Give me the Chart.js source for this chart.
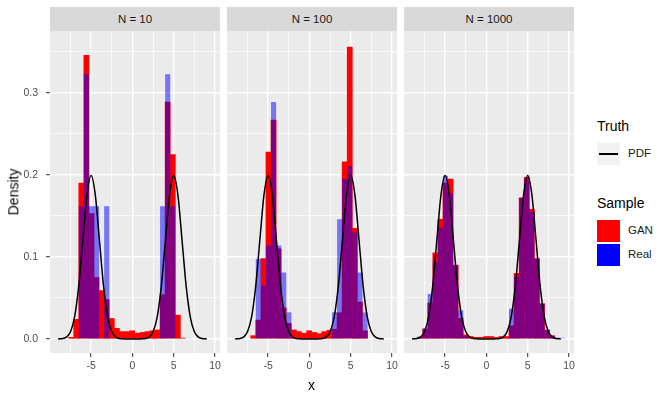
<!DOCTYPE html>
<html>
<head>
<meta charset="utf-8">
<script src="https://cdn.jsdelivr.net/npm/chart.js@4.4.0/dist/chart.umd.min.js"></script>
<style>
body{margin:0;background:#fff;font-family:"Liberation Sans",Arial,sans-serif;}
#wrap{position:relative;width:670px;height:400px;overflow:hidden;background:#fff;}
canvas{position:absolute;top:31px;}
.strip{position:absolute;top:7px;height:24px;width:170px;background:#d9d9d9;color:#1a1a1a;font-size:11.5px;line-height:24px;text-align:center;}
.txt{position:absolute;white-space:nowrap;color:#000;}
.title{font-size:14px;}
.lab{font-size:11.5px;color:#1a1a1a;}
.key{position:absolute;width:23px;height:22px;}
</style>
</head>
<body>
<div id="wrap">
  <div class="strip" style="left:50px">N = 10</div>
  <div class="strip" style="left:227px">N = 100</div>
  <div class="strip" style="left:404px">N = 1000</div>

  <canvas id="c1" width="230" height="345" style="left:0px"></canvas>
  <canvas id="c2" width="190" height="345" style="left:217px"></canvas>
  <canvas id="c3" width="190" height="345" style="left:394px"></canvas>

  <div class="txt title" style="left:-10px;top:184px;transform:rotate(-90deg);">Density</div>
  <div class="txt title" style="left:308px;top:377px;">x</div>

  <div class="txt title" style="left:597px;top:118px;">Truth</div>
  <div class="key" style="left:597px;top:143px;background:#f2f2f2;"></div>
  <div class="key" style="left:599px;top:153px;width:19px;height:1.5px;background:#000;"></div>
  <div class="txt lab" style="left:628px;top:147px;">PDF</div>

  <div class="txt title" style="left:597px;top:195px;">Sample</div>
  <div class="key" style="left:597px;top:220px;background:#ff0000;"></div>
  <div class="key" style="left:597px;top:244px;background:#0000ff;"></div>
  <div class="txt lab" style="left:628px;top:224px;">GAN</div>
  <div class="txt lab" style="left:628px;top:248px;">Real</div>
</div>
<script>
// bin centres shared by every histogram (bin width 0.615)
const binMids = [-8.648,-8.033,-7.418,-6.803,-6.188,-5.573,-4.958,-4.343,-3.728,-3.113,
  -2.498,-1.883,-1.268,-0.653,-0.038,0.577,1.192,1.807,2.422,3.037,
  3.652,4.267,4.882,5.497,6.112,6.727,7.342,7.957,8.572,9.187];

// N = 10
const gan10 = [0,0,0.002,0.024,0.190,0.346,0.153,0.075,0.059,0.048,
  0.025,0.013,0.009,0.009,0.010,0.007,0.008,0.009,0.010,0.011,
  0.054,0.289,0.225,0.029,0.001,0,0,0,0,0];
const real10 = [0,0,0,0,0.162,0.323,0.162,0.162,0,0.162,
  0,0,0,0,0,0,0,0,0,0,
  0.162,0.323,0.162,0,0,0,0,0,0,0];

// N = 100
const gan100 = [0,0,0,0.004,0.023,0.098,0.228,0.267,0.110,0.038,
  0.019,0.011,0.009,0.007,0.010,0.008,0.0065,0.009,0.0106,0.012,
  0.032,0.216,0.356,0.135,0.045,0.010,0,0,0,0];
const real100 = [0,0,0,0,0.0976,0.065,0.114,0.289,0.114,0.081,
  0.0325,0,0,0,0,0,0,0,0,0.0325,
  0.146,0.195,0.211,0.130,0.081,0.0325,0,0,0,0];

// N = 1000
const gan1000 = [0,0.002,0.012,0.044,0.105,0.146,0.190,0.195,0.090,0.025,
  0.005,0.003,0.002,0.002,0.003,0.003,0.002,0.003,0.003,0.016,
  0.080,0.172,0.197,0.158,0.098,0.043,0.011,0.004,0,0];
const real1000 = [0,0.003,0.013,0.055,0.094,0.136,0.199,0.178,0.090,0.035,
  0.004,0.001,0,0,0,0,0,0,0.001,0.037,
  0.076,0.172,0.195,0.155,0.098,0.043,0.011,0.004,0.0015,0.0015];

// true density curve
const pdfX = [-9,-8.5,-8,-7.5,-7,-6.5,-6,-5.5,-5,-4.5,-4,-3.5,-3,-2.5,-2,-1.5,-1,-0.5,0,
  0.5,1,1.5,2,2.5,3,3.5,4,4.5,5,5.5,6,6.5,7,7.5,8,8.5,9];
const pdfY = [0.0001,0.0004,0.0022,0.0088,0.0270,0.0648,0.1210,0.1760,0.1995,0.1760,0.1210,0.0648,0.0270,0.0088,0.0022,0.0004,0.0001,0,0,
  0,0.0001,0.0004,0.0022,0.0088,0.0270,0.0648,0.1210,0.1760,0.1995,0.1760,0.1210,0.0648,0.0270,0.0088,0.0022,0.0004,0.0001];

// ticks
const xMajor = [-5,0,5,10];
const xMinor = [-7.5,-2.5,2.5,7.5];
const yMajor = [0,0.1,0.2,0.3];
const yMinor = [0.05,0.15,0.25,0.35];
const yLabels = ["0.0","0.1","0.2","0.3"];

const fam = "'Liberation Sans', Arial, sans-serif";

const panelBg = {
  id: "panelBg",
  beforeDraw(chart){
    const a = chart.chartArea;
    const ctx = chart.ctx;
    ctx.save();
    ctx.fillStyle = "#ebebeb";
    ctx.fillRect(a.left, a.top, a.right - a.left, a.bottom - a.top);
    ctx.restore();
  }
};

function pts(vals){
  return binMids.map((x, i) => ({x: x, y: vals[i] > 0 ? vals[i] : null}));
}

function makePanel(id, gan, real, first){
  new Chart(document.getElementById(id), {
    type: "bar",
    data: {
      datasets: [
        {
          type: "line",
          label: "PDF",
          data: pdfX.map((x, i) => ({x: x, y: pdfY[i]})),
          borderColor: "#000",
          borderWidth: 1.5,
          pointRadius: 0,
          cubicInterpolationMode: "monotone",
          order: 0
        },
        {
          label: "Real",
          data: pts(real),
          backgroundColor: "rgba(0,0,255,0.5)",
          grouped: false,
          barPercentage: 1,
          categoryPercentage: 1,
          borderWidth: 0,
          inflateAmount: 0,
          order: 1
        },
        {
          label: "GAN",
          data: pts(gan),
          backgroundColor: "#ff0000",
          grouped: false,
          barPercentage: 1,
          categoryPercentage: 1,
          borderWidth: 0,
          order: 2
        }
      ]
    },
    options: {
      responsive: false,
      animation: false,
      layout: {padding: first ? {right: 10} : {left: 10, right: 10}},
      plugins: {legend: {display: false}, tooltip: {enabled: false}},
      scales: {
        x: {
          type: "linear",
          min: -9.98,
          max: 10.6,
          offset: false,
          afterBuildTicks: s => { s.ticks = xMinor.concat(xMajor).sort((a, b) => a - b).map(v => ({value: v})); },
          afterFit: s => { s.height = 23; s.paddingLeft = 0; s.paddingRight = 0; },
          ticks: {
            autoSkip: false,
            maxRotation: 0,
            padding: 3,
            color: "#4d4d4d",
            font: {size: 10.5, family: fam},
            callback: v => xMajor.includes(v) ? String(v) : ""
          },
          grid: {
            offset: false,
            color: "#ffffff",
            lineWidth: c => xMajor.includes(c.tick.value) ? 1.4 : 0.7,
            tickLength: 4,
            tickWidth: 1,
            tickColor: c => xMajor.includes(c.tick.value) ? "#333333" : "rgba(0,0,0,0)"
          },
          border: {display: false}
        },
        y: {
          min: -0.0171,
          max: 0.3756,
          afterBuildTicks: s => { s.ticks = yMajor.concat(yMinor).sort((a, b) => a - b).map(v => ({value: v})); },
          afterFit: s => { s.width = first ? 50 : 0; s.paddingTop = 0; s.paddingBottom = 0; },
          ticks: {
            display: first,
            autoSkip: false,
            padding: 8,
            color: "#4d4d4d",
            font: {size: 10.5, family: fam},
            callback: v => { const k = yMajor.indexOf(v); return k >= 0 ? yLabels[k] : ""; }
          },
          grid: {
            color: "#ffffff",
            lineWidth: c => yMajor.includes(c.tick.value) ? 1.4 : 0.7,
            drawTicks: first,
            tickLength: 4,
            tickWidth: 1,
            tickColor: c => yMajor.includes(c.tick.value) ? "#333333" : "rgba(0,0,0,0)"
          },
          border: {display: false}
        }
      }
    },
    plugins: [panelBg]
  });
}

makePanel("c1", gan10, real10, true);
makePanel("c2", gan100, real100, false);
makePanel("c3", gan1000, real1000, false);
</script>
</body>
</html>
